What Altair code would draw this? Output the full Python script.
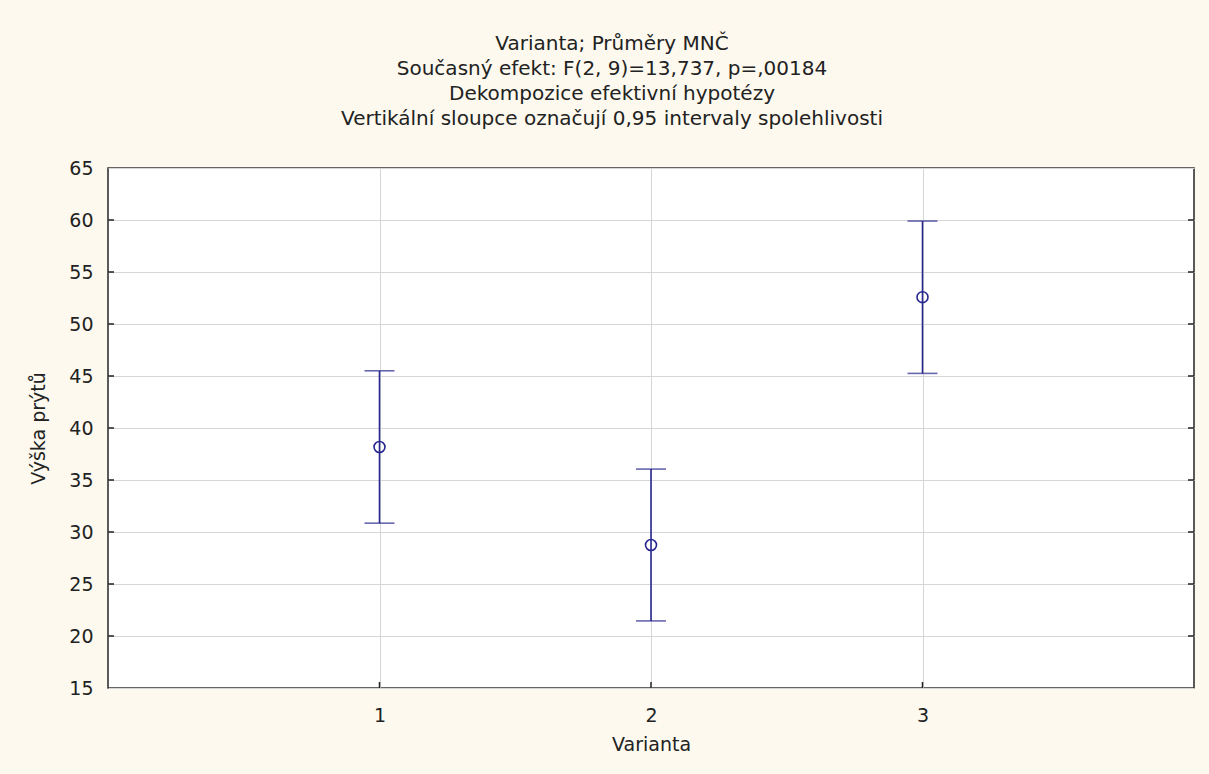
import altair as alt
import pandas as pd

categories = [1, 2, 3]
means = [38.17, 28.75, 52.58]
lower = [30.85, 21.45, 45.25]
upper = [45.50, 36.05, 59.90]
y_ticks = [15, 20, 25, 30, 35, 40, 45, 50, 55, 60, 65]
title_lines = [
    "Varianta; Průměry MNČ",
    "Současný efekt: F(2, 9)=13,737, p=,00184",
    "Dekompozice efektivní hypotézy",
    "Vertikální sloupce označují 0,95 intervaly spolehlivosti",
]

df = pd.DataFrame({"Varianta": categories, "mean": means, "lo": lower, "hi": upper})
ticks_df = pd.DataFrame({"t": y_ticks[1:-1]})
xt_df = pd.DataFrame({"c": categories})

FONT = "DejaVu Sans"
BLUE = "#27278f"

xs = alt.Scale(domain=[0, 4], nice=False, zero=False)
ys = alt.Scale(domain=[15, 65], nice=False, zero=False)

xaxis = alt.Axis(values=categories, title="Varianta", labelFontSize=19, titleFontSize=19,
                 labelFont=FONT, titleFont=FONT, titleFontWeight="normal", labelColor="#222",
                 titleColor="#222", ticks=False, domain=False, labelPadding=18, titlePadding=10,
                 grid=True, gridColor="#d6d6d6", format="d")
yaxis = alt.Axis(values=y_ticks, title="Výška prýtů", labelFontSize=19, titleFontSize=19,
                 labelFont=FONT, titleFont=FONT, titleFontWeight="normal", labelColor="#222",
                 titleColor="#222", ticks=False, domain=False, labelPadding=15, titlePadding=20,
                 grid=True, gridColor="#d6d6d6")

base = alt.Chart(df)

rules = base.mark_rule(color=BLUE, strokeWidth=1.6).encode(
    x=alt.X("Varianta:Q", scale=xs, axis=xaxis),
    y=alt.Y("lo:Q", scale=ys, axis=yaxis),
    y2="hi:Q",
)
cap_lo = base.mark_tick(color=BLUE, orient="horizontal", size=30, thickness=1.6).encode(
    x=alt.X("Varianta:Q", scale=xs), y=alt.Y("lo:Q", scale=ys))
cap_hi = base.mark_tick(color=BLUE, orient="horizontal", size=30, thickness=1.6).encode(
    x=alt.X("Varianta:Q", scale=xs), y=alt.Y("hi:Q", scale=ys))
pts = base.mark_point(shape="circle", filled=False, color=BLUE, size=120, strokeWidth=1.6, opacity=1).encode(
    x=alt.X("Varianta:Q", scale=xs), y=alt.Y("mean:Q", scale=ys))

ltick = alt.Chart(ticks_df).mark_rule(color="#222", strokeWidth=1.5).encode(
    x=alt.value(0), x2=alt.value(6), y=alt.Y("t:Q", scale=ys))
rtick = alt.Chart(ticks_df).mark_rule(color="#222", strokeWidth=1.5).encode(
    x=alt.value(1080), x2=alt.value(1086), y=alt.Y("t:Q", scale=ys))
btick = alt.Chart(xt_df).mark_rule(color="#222", strokeWidth=1.5).encode(
    x=alt.X("c:Q", scale=xs), y=alt.value(514), y2=alt.value(520))

chart = alt.layer(ltick, rtick, btick, rules, cap_lo, cap_hi, pts).properties(
    width=1086,
    height=520,
    autosize="none",
    padding={"left": 108, "top": 168, "right": 15, "bottom": 86},
    background="#fdf9ee",
    title=alt.TitleParams(text=title_lines, fontSize=20, fontWeight="normal", font=FONT,
                          color="#222", lineHeight=25, anchor="middle", dx=-39, offset=30),
).configure_view(fill="white", stroke="#333", strokeWidth=1.6)

chart.save("out.html", embed_options={"renderer": "svg", "actions": False})
